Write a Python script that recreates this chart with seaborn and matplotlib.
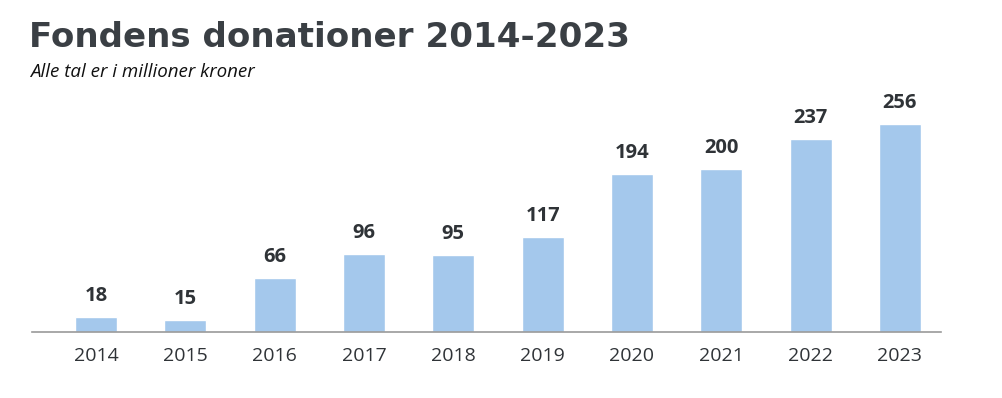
import numpy as np
import pandas as pd
import matplotlib
matplotlib.use("Agg")
import matplotlib.pyplot as plt
import seaborn as sns

# Data
years = ["2014", "2015", "2016", "2017", "2018", "2019", "2020", "2021", "2022", "2023"]
donationer = [18, 15, 66, 96, 95, 117, 194, 200, 237, 256]

df = pd.DataFrame({"year": years, "value": donationer})

sns.set_theme(style="white")
plt.rcParams["font.family"] = ["Open Sans", "DejaVu Sans"]

fig = plt.figure(figsize=(10.03, 3.98), dpi=100)
ax = fig.add_axes([32 / 1003, 66 / 398, (941 - 32) / 1003, 232 / 398])

sns.barplot(data=df, x="year", y="value", color="#A4C8EC", width=0.47,
            saturation=1, ax=ax)

ax.bar_label(ax.containers[0], labels=[str(v) for v in donationer], padding=8,
             fontsize=14.5, fontweight="bold", color="#2f3337")

ax.set_xlim(-0.717, 9.46)
ax.set_ylim(0, 285.5)
ax.set_xlabel("")
ax.set_ylabel("")
ax.set_yticks([])
for s in ["top", "left", "right"]:
    ax.spines[s].set_visible(False)
ax.spines["bottom"].set_color("#9a9a9a")
ax.spines["bottom"].set_linewidth(1.2)
ax.tick_params(axis="x", length=0, pad=11, labelsize=14, labelcolor="#2f3337")

fig.text(29 / 1003, 1 - 47 / 398, "Fondens donationer 2014-2023", fontsize=24.6,
         fontweight="bold", color="#3a3f44", family=["DejaVu Sans"])
fig.text(30 / 1003, 1 - 77 / 398, "Alle tal er i millioner kroner", fontsize=13.5,
         style="italic", color="#111111", family=["Open Sans", "DejaVu Sans"])

fig.savefig("out.png", dpi=100)
